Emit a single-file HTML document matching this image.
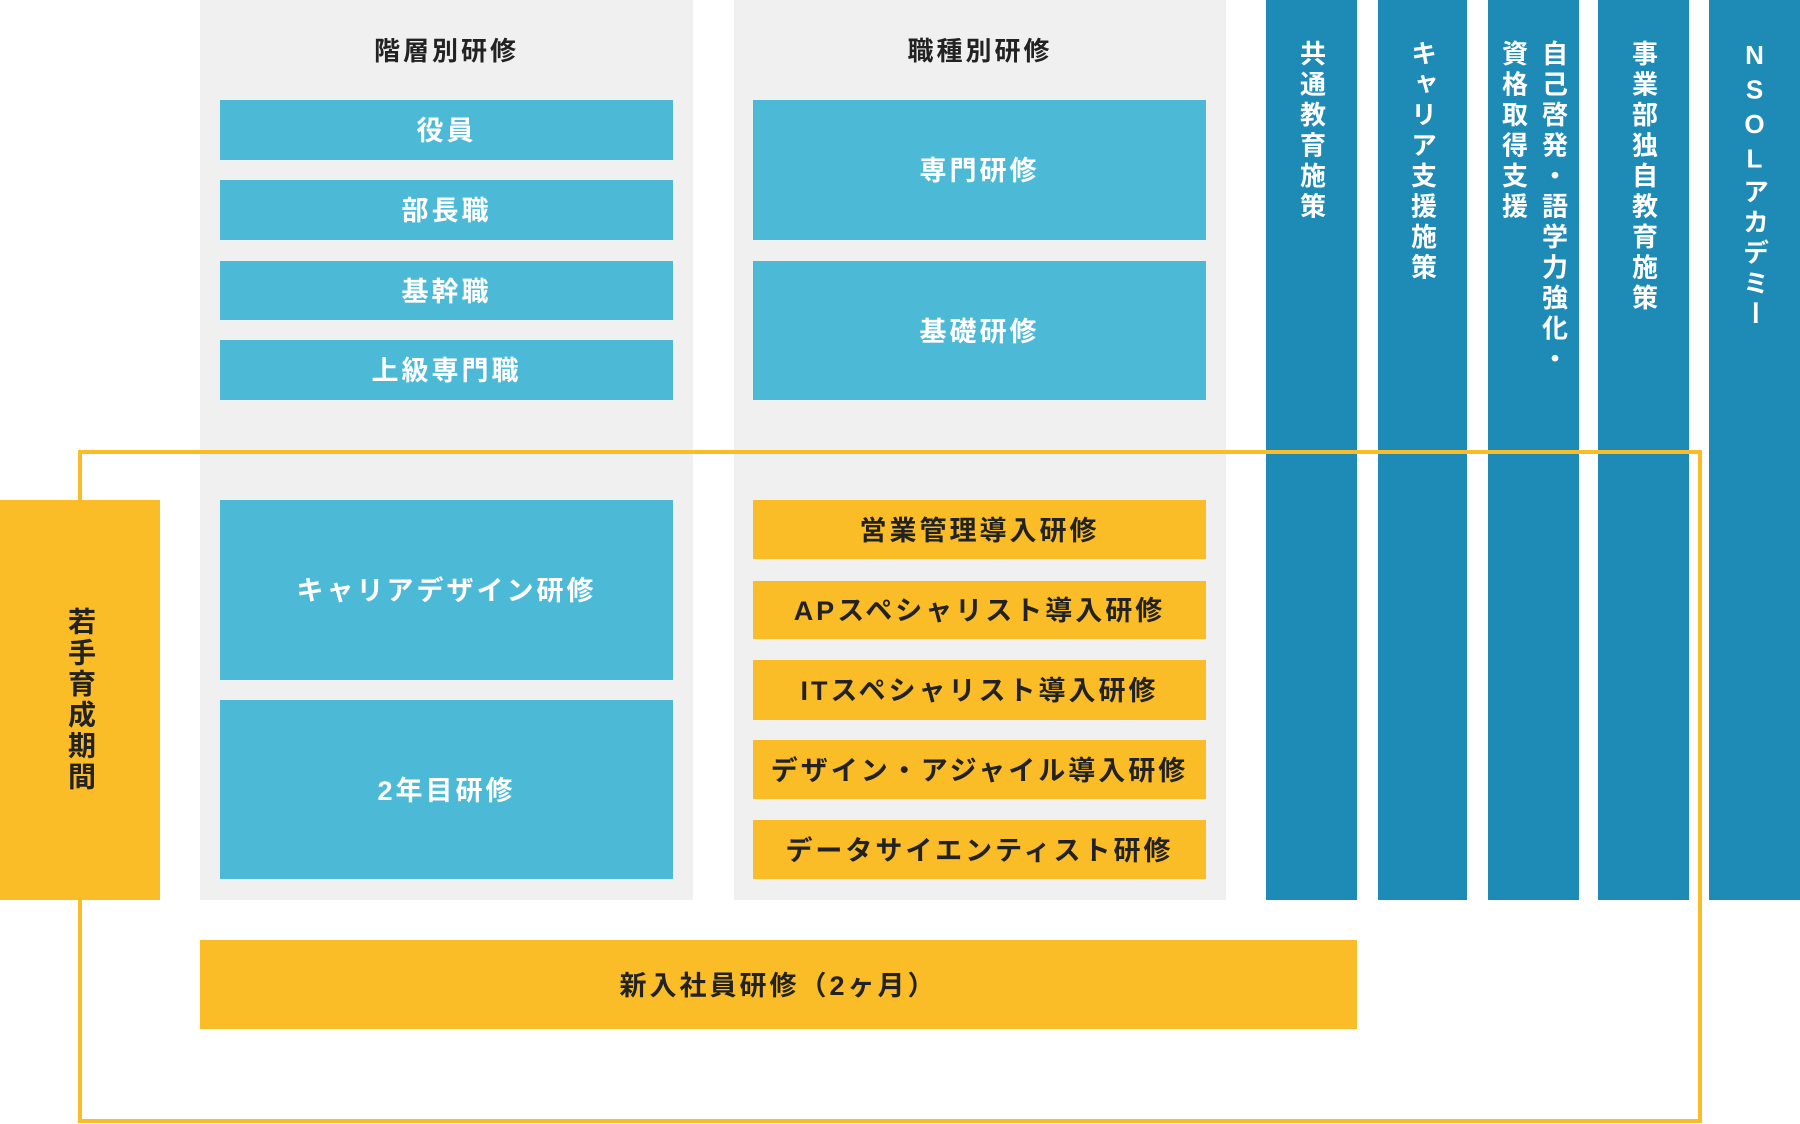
<!DOCTYPE html>
<html><head><meta charset="utf-8"><style>
*{margin:0;padding:0;box-sizing:border-box}
body{width:1800px;height:1124px;background:#fff;position:relative;overflow:hidden;font-family:"Liberation Sans","Noto Sans CJK JP",sans-serif;font-weight:bold}
.a{position:absolute;display:flex;align-items:center;justify-content:center;letter-spacing:3px;font-size:27px;padding-bottom:3px}
.g{background:#f0f0f0}
.lb{background:#4cbad7;color:#fff}
.or{background:#fbbd27;color:#222}
.db{position:absolute;top:0;height:900px;background:#1d8bb5;color:#fff;font-size:26px;writing-mode:vertical-rl;text-orientation:upright;padding-top:40px;display:flex;align-items:center;line-height:40px;letter-spacing:4.5px}
.h{position:absolute;font-size:26px;color:#222;letter-spacing:3px;text-align:center}
</style></head><body>
<div class="a g" style="left:200px;top:0;width:493px;height:900px"></div>
<div class="a g" style="left:734px;top:0;width:492px;height:900px"></div>
<div class="h" style="left:200px;top:31px;width:493px">階層別研修</div>
<div class="h" style="left:734px;top:31px;width:492px">職種別研修</div>

<div class="a lb" style="left:220px;top:100px;width:453px;height:60px">役員</div>
<div class="a lb" style="left:220px;top:180px;width:453px;height:60px">部長職</div>
<div class="a lb" style="left:220px;top:261px;width:453px;height:59px">基幹職</div>
<div class="a lb" style="left:220px;top:340px;width:453px;height:60px">上級専門職</div>
<div class="a lb" style="left:753px;top:100px;width:453px;height:140px">専門研修</div>
<div class="a lb" style="left:753px;top:261px;width:453px;height:139px">基礎研修</div>

<div class="db" style="left:1266px;width:91px">共通教育施策</div>
<div class="db" style="left:1378px;width:89px">キャリア支援施策</div>
<div class="db" style="left:1488px;width:91px">自己啓発・語学力強化・<br>資格取得支援</div>
<div class="db" style="left:1598px;width:91px">事業部独自教育施策</div>
<div class="db" style="left:1709px;width:91px">NSOLアカデミー</div>

<div style="position:absolute;left:78px;top:450px;width:1624px;height:673px;border:4px solid #fbbd27"></div>
<div class="a or" style="left:0;top:500px;width:160px;height:400px;writing-mode:vertical-rl;text-orientation:upright;letter-spacing:3px;font-size:28px;padding:0">若手育成期間</div>

<div class="a lb" style="left:220px;top:500px;width:453px;height:180px">キャリアデザイン研修</div>
<div class="a lb" style="left:220px;top:700px;width:453px;height:179px">2年目研修</div>

<div class="a or" style="left:753px;top:500px;width:453px;height:59px">営業管理導入研修</div>
<div class="a or" style="left:753px;top:581px;width:453px;height:58px">APスペシャリスト導入研修</div>
<div class="a or" style="left:753px;top:660px;width:453px;height:60px">ITスペシャリスト導入研修</div>
<div class="a or" style="left:753px;top:740px;width:453px;height:59px">デザイン・アジャイル導入研修</div>
<div class="a or" style="left:753px;top:820px;width:453px;height:59px">データサイエンティスト研修</div>

<div class="a or" style="left:200px;top:940px;width:1157px;height:89px">新入社員研修（2ヶ月）</div>
</body></html>
